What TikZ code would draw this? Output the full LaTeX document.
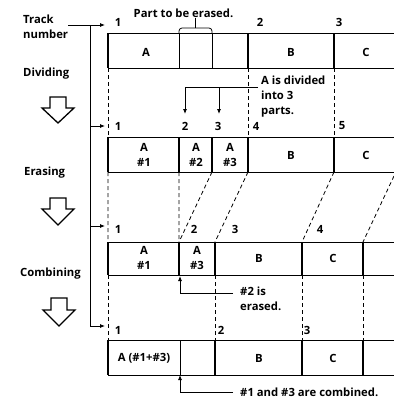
\documentclass[tikz,border=0pt]{standalone}
\usepackage{fontspec}
\setmainfont{Open Sans}
\usetikzlibrary{arrows.meta}
\begin{document}
\begin{tikzpicture}[x=1pt,y=-1pt,
  every node/.style={font=\bfseries\fontsize{11.3}{15}\selectfont, inner sep=0pt},
  lbl/.style={anchor=west, align=left},
  cell/.style={align=center},
  outl/.style={line width=0.8pt},
  thk/.style={line width=2.8pt},
  thn/.style={line width=0.8pt},
  dsh/.style={line width=0.8pt, dash pattern=on 4pt off 3pt},
  ptr/.style={line width=0.8pt, -{Latex[length=5pt,width=4pt]}},
  hollow/.style={line width=1.3pt, line join=miter}
]
\useasboundingbox (0,0) rectangle (394,400);

% ---------- row coordinates ----------
\foreach \i/\x in {0/108,1/179,2/212,3/248,4/334}{
  \coordinate (r1t\i) at (\x,33); \coordinate (r1b\i) at (\x,68);
  \coordinate (r2t\i) at (\x,137); \coordinate (r2b\i) at (\x,172);}
\foreach \i/\x in {0/108,1/179,2/215,3/302,4/363}{
  \coordinate (r3t\i) at (\x,242); \coordinate (r3b\i) at (\x,275);}
\foreach \i/\x in {0/108,1/180,2/215,3/302,4/363}{
  \coordinate (r4t\i) at (\x,340); \coordinate (r4b\i) at (\x,375);}
\coordinate (r1tE) at (394,33);  \coordinate (r1bE) at (394,68);
\coordinate (r2tE) at (394,137); \coordinate (r2bE) at (394,172);
\coordinate (r3tE) at (394,242); \coordinate (r3bE) at (394,275);
\coordinate (r4tE) at (394,340); \coordinate (r4bE) at (394,375);
\coordinate (r2bX) at (394,176);

% ---------- rows ----------
\draw[outl] (r1t0) -- (r1tE) (r1b0) -- (r1bE);
\draw[thk] (r1t0) -- (r1b0) (r1t3) -- (r1b3) (r1t4) -- (r1b4);
\draw[thn] (r1t1) -- (r1b1) (r1t2) -- (r1b2);

\draw[outl] (r2t0) -- (r2tE) (r2b0) -- (r2bE);
\draw[thk] (r2t0) -- (r2b0) (r2t1) -- (r2b1) (r2t2) -- (r2b2) (r2t3) -- (r2b3) (r2t4) -- (r2b4);

\draw[outl] (r3t0) -- (r3tE) (r3b0) -- (r3bE);
\draw[thk] (r3t0) -- (r3b0) (r3t1) -- (r3b1) (r3t2) -- (r3b2) (r3t3) -- (r3b3) (r3t4) -- (r3b4);

\draw[outl] (r4t0) -- (r4tE) (r4b0) -- (r4bE);
\draw[thk] (r4t0) -- (r4b0) (r4t2) -- (r4b2) (r4t3) -- (r4b3) (r4t4) -- (r4b4);
\draw[thn] (r4t1) -- (r4b1);

% ---------- dashed connectors ----------
\draw[dsh] (r1b0) -- (r2t0) (r1b3) -- (r2t3) (r1b4) -- (r2t4);
\draw[dsh] (r2b0) -- (r3t0) (r2b1) -- (r3t1) (r2b2) -- (r3t1) (r2b3) -- (r3t2) (r2b4) -- (r3t3) (r2bX) -- (r3t4);
\draw[dsh] (r3b0) -- (r4t0) (r3b2) -- (r4t2) (r3b3) -- (r4t3) (r3b4) -- (r4t4);

% ---------- cell texts ----------
\node[cell] (c1a) at (146,52) {A};
\node[cell] (c1b) at (291,52) {B};
\node[cell] (c1c) at (366,52) {C};
\node[cell] (c2a) at (144,155) {A\\\#1};
\node[cell] (c2b) at (196,155) {A\\\#2};
\node[cell] (c2c) at (230,155) {A\\\#3};
\node[cell] (c2d) at (291,155) {B};
\node[cell] (c2e) at (366,155) {C};
\node[cell] (c3a) at (144,258) {A\\\#1};
\node[cell] (c3b) at (197,258) {A\\\#3};
\node[cell] (c3c) at (259,258) {B};
\node[cell] (c3d) at (333,258) {C};
\node[cell] (c4a) at (144,358) {A (\#1+\#3)};
\node[cell] (c4b) at (259,358) {B};
\node[cell] (c4c) at (333,358) {C};

% ---------- track numbers ----------
\node (n11) at (118,22) {1}; \node (n12) at (260,22) {2}; \node (n13) at (339,22) {3};
\node (n21) at (118,126) {1}; \node (n22) at (185,126) {2}; \node (n23) at (218,126) {3};
\node (n24) at (256,126) {4}; \node (n25) at (342,126) {5};
\node (n31) at (118,229) {1}; \node (n32) at (194,229) {2}; \node (n33) at (235,229) {3};
\node (n34) at (320,229) {4};
\node (n41) at (118,330) {1}; \node (n42) at (221,330) {2}; \node (n43) at (307,330) {3};

% ---------- left labels ----------
\node[lbl] (trk) at (23,26.5) {Track\\number};
\node[lbl] (div) at (23,74) {Dividing};
\node[lbl] (era) at (24,173) {Erasing};
\node[lbl] (com) at (20,274) {Combining};

% track number pointer tree
\coordinate (tn0) at (68,25);
\coordinate (tv1) at (90,25);  \coordinate (ta1) at (105,25);
\coordinate (tv2) at (90,126); \coordinate (ta2) at (105,126);
\coordinate (tv3) at (90,226); \coordinate (ta3) at (105,226);
\coordinate (tv4) at (90,326); \coordinate (ta4) at (105,326);
\draw[ptr] (tn0) -- (ta1);
\draw[thn] (tv1) -- (tv4);
\draw[ptr] (tv2) -- (ta2);
\draw[ptr] (tv3) -- (ta3);
\draw[ptr] (tv4) -- (ta4);

% hollow arrows
\draw[hollow] (50,97) -- (66,97) -- (66,108) -- (74,108) -- (58,123) -- (42,108) -- (50,108) -- cycle;
\draw[hollow] (50,198) -- (66,198) -- (66,209) -- (74,209) -- (58,225) -- (42,209) -- (50,209) -- cycle;
\draw[hollow] (51,298) -- (67,298) -- (67,310) -- (75,310) -- (59,326) -- (43,310) -- (51,310) -- cycle;

% ---------- annotations ----------
\node (pte) at (183.5,13) {Part to be erased.};
\draw[thn, rounded corners=3pt] (r1t1) -- (179,28) -- (212,28) -- (r1t2);
\coordinate (brm) at (195,28);
\draw[thn] (brm) -- (brm |- pte.south);

\node[lbl] (adiv) at (261,97) {A is divided\\into 3\\parts.};
\coordinate (dv0) at (258,87); \coordinate (dv1) at (185,87); \coordinate (dv2) at (219,87);
\coordinate (dn1) at (185,114); \coordinate (dn2) at (219,114);
\draw[thn] (dv0) -- (dv1);
\draw[ptr] (dv1) -- (dn1);
\draw[ptr] (dv2) -- (dn2);

\node[lbl] (aer) at (240,299) {\#2 is\\erased.};
\coordinate (e0) at (233,293); \coordinate (e1) at (180,293);
\draw[ptr] (e0) -- (e1) -- (180,276);

\node[lbl] (acm) at (240,392) {\#1 and \#3 are combined.};
\coordinate (m0) at (233,392); \coordinate (m1) at (180,392);
\draw[ptr] (m0) -- (m1) -- (r4b1);
\end{tikzpicture}
\end{document}
